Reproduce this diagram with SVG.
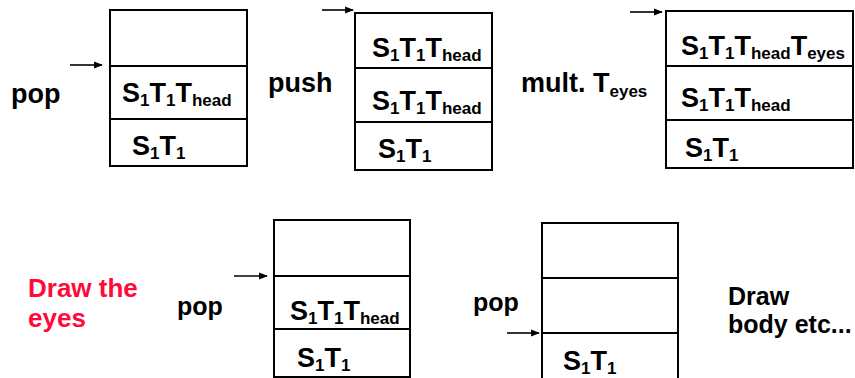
<svg xmlns="http://www.w3.org/2000/svg" width="855" height="378" viewBox="0 0 855 378">
  <style>
    text { font-family: "Liberation Sans", Arial, sans-serif; font-weight: bold; fill: #000; }
    .big { font-size: 27px; }
    .mid { font-size: 25px; }
    .sub { font-size: 17px; }
    .red { fill: #ff0a3a; font-size: 26px; }
    .frame { fill: none; stroke: #000; stroke-width: 2; }
    .ptr { stroke: #000; stroke-width: 1.6; fill: none; marker-end: url(#head); }
  </style>
  <defs>
    <marker id="head" viewBox="0 0 10 10" refX="9" refY="5" markerWidth="5.5" markerHeight="5.5" orient="auto" markerUnits="strokeWidth">
      <path d="M0,1 L10,5 L0,9 z" fill="#000"/>
    </marker>
  </defs>

  <rect width="855" height="378" fill="#fff"/>

  <!-- operation labels -->
  <g id="labels">
    <text class="big" x="11" y="103">pop</text>
    <text class="big" x="268" y="92">push</text>
    <text class="big" x="521" y="92">mult. T<tspan class="sub" dy="5">eyes</tspan></text>
    <text class="red" x="28" y="297">Draw the</text>
    <text class="red" x="28" y="327">eyes</text>
    <text class="mid" x="177" y="315">pop</text>
    <text class="mid" x="473" y="311">pop</text>
    <text class="mid" x="728" y="305">Draw</text>
    <text class="mid" x="728" y="333">body etc...</text>
  </g>

  <!-- stack after first pop -->
  <g id="stack1">
    <rect class="frame" x="110" y="10" width="137" height="156"/>
    <line class="frame" x1="110" y1="66" x2="247" y2="66"/>
    <line class="frame" x1="110" y1="119" x2="247" y2="119"/>
    <text class="big" x="122" y="102">S<tspan class="sub" dy="4">1</tspan><tspan dy="-4">T</tspan><tspan class="sub" dy="4">1</tspan><tspan dy="-4">T</tspan><tspan class="sub" dy="4">head</tspan></text>
    <text class="big" x="132" y="155">S<tspan class="sub" dy="4">1</tspan><tspan dy="-4">T</tspan><tspan class="sub" dy="4">1</tspan></text>
  </g>

  <!-- stack after push -->
  <g id="stack2">
    <rect class="frame" x="355" y="13" width="137" height="157"/>
    <line class="frame" x1="355" y1="68" x2="492" y2="68"/>
    <line class="frame" x1="355" y1="122" x2="492" y2="122"/>
    <text class="big" x="372" y="57">S<tspan class="sub" dy="4">1</tspan><tspan dy="-4">T</tspan><tspan class="sub" dy="4">1</tspan><tspan dy="-4">T</tspan><tspan class="sub" dy="4">head</tspan></text>
    <text class="big" x="372" y="110">S<tspan class="sub" dy="4">1</tspan><tspan dy="-4">T</tspan><tspan class="sub" dy="4">1</tspan><tspan dy="-4">T</tspan><tspan class="sub" dy="4">head</tspan></text>
    <text class="big" x="378" y="158">S<tspan class="sub" dy="4">1</tspan><tspan dy="-4">T</tspan><tspan class="sub" dy="4">1</tspan></text>
  </g>

  <!-- stack after multiplying by T_eyes -->
  <g id="stack3">
    <rect class="frame" x="666" y="11" width="187" height="157"/>
    <line class="frame" x1="666" y1="66" x2="853" y2="66"/>
    <line class="frame" x1="666" y1="120" x2="853" y2="120"/>
    <text class="big" x="681" y="55">S<tspan class="sub" dy="4">1</tspan><tspan dy="-4">T</tspan><tspan class="sub" dy="4">1</tspan><tspan dy="-4">T</tspan><tspan class="sub" dy="4">head</tspan><tspan dy="-4">T</tspan><tspan class="sub" dy="4">eyes</tspan></text>
    <text class="big" x="681" y="107">S<tspan class="sub" dy="4">1</tspan><tspan dy="-4">T</tspan><tspan class="sub" dy="4">1</tspan><tspan dy="-4">T</tspan><tspan class="sub" dy="4">head</tspan></text>
    <text class="big" x="685" y="157">S<tspan class="sub" dy="4">1</tspan><tspan dy="-4">T</tspan><tspan class="sub" dy="4">1</tspan></text>
  </g>

  <!-- stack after drawing the eyes and popping -->
  <g id="stack4">
    <rect class="frame" x="274" y="220" width="136" height="157"/>
    <line class="frame" x1="274" y1="276" x2="410" y2="276"/>
    <line class="frame" x1="274" y1="329" x2="410" y2="329"/>
    <text class="big" x="290" y="320">S<tspan class="sub" dy="4">1</tspan><tspan dy="-4">T</tspan><tspan class="sub" dy="4">1</tspan><tspan dy="-4">T</tspan><tspan class="sub" dy="4">head</tspan></text>
    <text class="big" x="297" y="367">S<tspan class="sub" dy="4">1</tspan><tspan dy="-4">T</tspan><tspan class="sub" dy="4">1</tspan></text>
  </g>

  <!-- stack after second pop (runs off the bottom) -->
  <g id="stack5">
    <path class="frame" d="M542,379 V223 H678 V379"/>
    <line class="frame" x1="542" y1="278" x2="678" y2="278"/>
    <line class="frame" x1="542" y1="333" x2="678" y2="333"/>
    <text class="big" x="563" y="370">S<tspan class="sub" dy="4">1</tspan><tspan dy="-4">T</tspan><tspan class="sub" dy="4">1</tspan></text>
  </g>

  <!-- top-of-stack pointers -->
  <g id="connectors">
    <line class="ptr" x1="70" y1="65" x2="102" y2="65"/>
    <line class="ptr" x1="322" y1="10" x2="353" y2="10"/>
    <line class="ptr" x1="630" y1="12" x2="662" y2="12"/>
    <line class="ptr" x1="234" y1="276" x2="267" y2="276"/>
    <line class="ptr" x1="507" y1="333" x2="539" y2="333"/>
  </g>
</svg>
